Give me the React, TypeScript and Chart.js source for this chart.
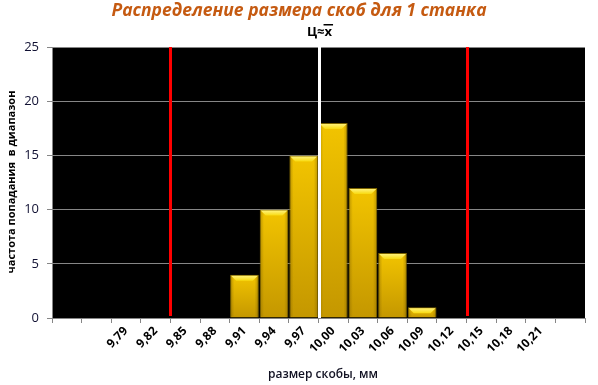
import React, { useEffect, useRef } from "react";
import { Chart, registerables } from "chart.js";

Chart.register(...registerables);

// ---- data ----
const categories: string[] = [
  "", "", "9,79", "9,82", "9,85", "9,88", "9,91", "9,94", "9,97",
  "10,00", "10,03", "10,06", "10,09", "10,12", "10,15", "10,18", "10,21", "",
];
const frequencies: (number | null)[] = [
  null, null, null, null, null, null, 4, 10, 15, 18, 12, 6, 1, null, null, null, null, null,
];
const yTicks = [0, 5, 10, 15, 20, 25];
// value (mm) of the first category slot and step between slots
const firstSlotValue = 9.73;
const slotStep = 0.03;
const toleranceLimits = [9.835, 10.135];
const centerValue = 9.985;

const chartTitle = "Распределение размера скоб для 1 станка";
const centerLabel = "Ц≈x";
const yTitle = "частота попадания  в диапазон";
const xTitle = "размер скобы, мм";

const FONT = "'Open Sans', 'Noto Sans', sans-serif";

const slotIndex = (v: number) => (v - firstSlotValue) / slotStep;

const overlayPlugin = {
  id: "overlay",
  beforeDraw(chart: any) {
    const { ctx, chartArea } = chart;
    ctx.save();
    ctx.fillStyle = "#000000";
    ctx.fillRect(chartArea.left, chartArea.top, chartArea.right - chartArea.left, chartArea.bottom - chartArea.top);
    ctx.restore();
  },
  afterDatasetsDraw(chart: any) {
    const { ctx, chartArea, scales } = chart;
    const meta = chart.getDatasetMeta(0);
    meta.data.forEach((bar: any, i: number) => {
      const v = frequencies[i];
      if (!v) return;
      const p = bar.getProps(["x", "y", "base", "width"], true);
      const l = p.x - p.width / 2 + 1;
      const r = p.x + p.width / 2 - 1;
      const t = p.y + 1;
      const b = p.base - 1;
      const bev = 5;
      ctx.save();
      // side shading
      const sg = ctx.createLinearGradient(l, 0, r, 0);
      sg.addColorStop(0, "rgba(120,90,0,0.35)");
      sg.addColorStop(0.12, "rgba(120,90,0,0)");
      sg.addColorStop(0.88, "rgba(120,90,0,0)");
      sg.addColorStop(1, "rgba(120,90,0,0.35)");
      ctx.fillStyle = sg;
      ctx.fillRect(l, t, r - l, b - t);
      // top bevel
      const g = ctx.createLinearGradient(0, t, 0, t + bev);
      g.addColorStop(0, "#FFF27A");
      g.addColorStop(1, "#F8DA10");
      ctx.fillStyle = g;
      ctx.beginPath();
      ctx.moveTo(l, t);
      ctx.lineTo(r, t);
      ctx.lineTo(r - bev, t + bev);
      ctx.lineTo(l + bev, t + bev);
      ctx.closePath();
      ctx.fill();
      ctx.restore();
    });
    const xs = scales.x;
    ctx.save();
    ctx.lineWidth = 3;
    ctx.strokeStyle = "#FF0000";
    toleranceLimits.forEach((v) => {
      const px = Math.round(xs.getPixelForValue(slotIndex(v))) + 0.5;
      ctx.beginPath();
      ctx.moveTo(px, chartArea.top);
      ctx.lineTo(px, chartArea.bottom - 2);
      ctx.stroke();
    });
    ctx.strokeStyle = "#FFFFFF";
    const cx = Math.round(xs.getPixelForValue(slotIndex(centerValue))) + 1.5;
    ctx.beginPath();
    ctx.moveTo(cx, chartArea.top - 2);
    ctx.lineTo(cx, chartArea.bottom);
    ctx.stroke();
    ctx.restore();
  },
  afterDraw(chart: any) {
    const { ctx, chartArea, scales } = chart;
    ctx.save();
    // chart title
    ctx.fillStyle = "#C55A11";
    ctx.font = `italic bold 17.5px ${FONT}`;
    ctx.textAlign = "center";
    ctx.textBaseline = "middle";
    ctx.fillText(chartTitle, 299, 11);

    // center label with overline on x
    const cx = scales.x.getPixelForValue(slotIndex(centerValue)) + 1;
    ctx.fillStyle = "#000000";
    ctx.font = `bold 13px ${FONT}`;
    const w = ctx.measureText(centerLabel).width;
    const wx = ctx.measureText("x").width;
    ctx.textAlign = "left";
    ctx.fillText(centerLabel, cx - w / 2, 32);
    ctx.fillRect(cx + w / 2 - wx - 1, 24, wx + 2, 1.5);

    // y title
    ctx.save();
    ctx.translate(12, 182);
    ctx.rotate(-Math.PI / 2);
    ctx.textAlign = "center";
    ctx.font = `bold 11px ${FONT}`;
    ctx.fillText(yTitle, 0, 0);
    ctx.restore();

    // x title
    ctx.textAlign = "center";
    ctx.font = `600 12px ${FONT}`;
    ctx.fillStyle = "#111122";
    ctx.fillText(xTitle, 323, 375);
    ctx.restore();
  },
};

export default function App() {
  const ref = useRef<HTMLCanvasElement | null>(null);
  useEffect(() => {
    if (!ref.current) return;
    const chart = new Chart(ref.current, {
      type: "bar",
      data: {
        labels: categories,
        datasets: [
          {
            data: frequencies,
            backgroundColor: (c: any) => {
              const chartRef = c.chart;
              const ys = chartRef.scales?.y;
              const v = c.raw;
              if (!ys || v == null) return "#E0B000";
              const top = ys.getPixelForValue(v);
              const bottom = ys.getPixelForValue(0);
              const g = chartRef.ctx.createLinearGradient(0, top, 0, bottom);
              g.addColorStop(0, "#F2C400");
              g.addColorStop(1, "#C49700");
              return g;
            },
            borderColor: "#7A6200",
            borderWidth: 1,
            categoryPercentage: 1,
            barPercentage: 0.97,
          },
        ],
      },
      options: {
        responsive: false,
        animation: false,
        layout: { padding: { top: 47, right: 13, left: 0, bottom: 0 } },
        plugins: { legend: { display: false }, title: { display: false }, tooltip: { enabled: false } },
        scales: {
          x: {
            offset: true,
            grid: { offset: true, drawOnChartArea: false, drawTicks: true, tickLength: 5, color: "#868686" },
            border: { color: "#868686" },
            ticks: {
              autoSkip: false,
              minRotation: 45,
              maxRotation: 45,
              color: "#000000",
              padding: 1,
              font: { family: FONT, size: 12, weight: "bold" },
            },
            afterFit: (s: any) => {
              s.height = 67;
            },
          },
          y: {
            min: yTicks[0],
            max: yTicks[yTicks.length - 1],
            ticks: {
              stepSize: 5,
              color: "#111133",
              padding: 8,
              font: { family: FONT, size: 13 },
            },
            grid: { color: "#868686", tickLength: 5 },
            border: { color: "#868686" },
            afterFit: (s: any) => {
              s.width = 52;
            },
          },
        },
      },
      plugins: [overlayPlugin],
    });
    return () => chart.destroy();
  }, []);
  return (
    <div style={{ position: "fixed", left: 0, top: 0, width: 598, height: 385, background: "#fff" }}>
      <canvas ref={ref} width={598} height={385} style={{ width: 598, height: 385, display: "block" }} />
    </div>
  );
}
